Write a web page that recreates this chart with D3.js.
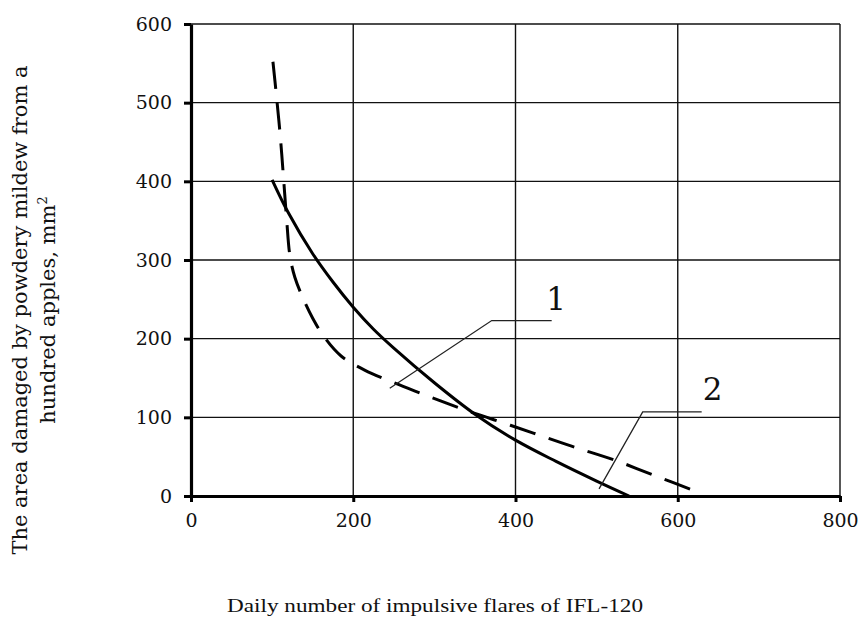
<!DOCTYPE html>
<html>
<head>
<meta charset="utf-8">
<script src="https://cdn.jsdelivr.net/npm/d3@7"></script>
<style>
  html, body { margin: 0; padding: 0; background: #fff; }
  svg text { font-family: "DejaVu Serif", "Liberation Serif", serif; fill: #111; }
</style>
</head>
<body>
<svg id="chart" width="861" height="621"></svg>
<script>
// Curve 1: solid line (x = daily flares, y = damaged area)
const curve1X = [100, 120, 150, 175, 200, 225, 250, 300, 350, 400, 450, 500, 540];
const curve1Y = [402, 360, 308, 272, 240, 212, 188, 144, 104, 71, 44, 19, 0];

// Curve 2: dashed line
const curve2X = [101, 105, 110, 114, 118, 122, 128, 137, 150, 165, 185, 214, 250, 282, 315, 350, 385, 422, 470, 521, 574, 625];
const curve2Y = [552, 512, 458, 405, 350, 305, 278, 254, 226, 201, 178, 160, 144, 131, 118, 105, 93, 80, 63, 46, 25, 5];

const xTicks = [0, 200, 400, 600, 800];
const yTicks = [0, 100, 200, 300, 400, 500, 600];

const xTitle = "Daily number of impulsive flares of IFL-120";
const yTitleLines = ["The area damaged by powdery mildew from a", "hundred apples, mm"];

// Curve numbers and their leader lines (data units)
const curveLabels = ["1", "2"];
const labelText = [[450, 236], [643, 122]];
const leaderPoints = [
  [[444.6, 223], [370.7, 223], [245, 137]],
  [[629.5, 107], [556.8, 107], [503, 9]]
];

const svg = d3.select("#chart");
const x = d3.scaleLinear().domain([0, 800]).range([191, 840]);
const y = d3.scaleLinear().domain([0, 600]).range([496, 24]);

// grid
const grid = svg.append("g");
grid.selectAll("line.h").data(yTicks.filter(d => d > 0)).join("line")
  .attr("x1", x(0)).attr("x2", x(800))
  .attr("y1", d => y(d)).attr("y2", d => y(d))
  .attr("stroke", "#111").attr("stroke-width", 1.4);
grid.selectAll("line.v").data(xTicks.filter(d => d > 0)).join("line")
  .attr("y1", y(0)).attr("y2", y(600))
  .attr("x1", d => x(d)).attr("x2", d => x(d))
  .attr("stroke", "#111").attr("stroke-width", 1.4);

// axes
const xAxis = svg.append("g").attr("transform", `translate(0,${y(0)})`)
  .call(d3.axisBottom(x).tickValues(xTicks).tickSizeInner(6).tickSizeOuter(0).tickPadding(12));
const yAxis = svg.append("g").attr("transform", `translate(${x(0)},0)`)
  .call(d3.axisLeft(y).tickValues(yTicks).tickSizeInner(7).tickSizeOuter(0).tickPadding(12));
[xAxis, yAxis].forEach(g => {
  g.select(".domain").attr("stroke", "#000").attr("stroke-width", 3.2);
  g.selectAll(".tick line").attr("stroke", "#000").attr("stroke-width", 3);
  g.selectAll(".tick text").attr("font-size", 19).attr("fill", "#111")
    .style("font-family", '"DejaVu Serif", serif');
});

// curves
const line = d3.line().x(d => x(d[0])).y(d => y(d[1])).curve(d3.curveCatmullRom.alpha(0.5));
svg.append("path").datum(d3.zip(curve1X, curve1Y)).attr("d", line)
  .attr("fill", "none").attr("stroke", "#000").attr("stroke-width", 3);
svg.append("path").datum(d3.zip(curve2X, curve2Y)).attr("d", line)
  .attr("fill", "none").attr("stroke", "#000").attr("stroke-width", 3)
  .attr("stroke-dasharray", "27,14");

// leader lines and curve numbers
leaderPoints.forEach((pts, i) => {
  svg.append("path").datum(pts)
    .attr("d", d3.line().x(d => x(d[0])).y(d => y(d[1])))
    .attr("fill", "none").attr("stroke", "#222").attr("stroke-width", 1.3);
  svg.append("text")
    .attr("x", x(labelText[i][0])).attr("y", y(labelText[i][1]))
    .attr("text-anchor", "middle").attr("font-size", 31)
    .text(curveLabels[i]);
});

// axis titles
svg.append("text").attr("x", 435).attr("y", 612)
  .attr("text-anchor", "middle").attr("font-size", 18)
  .style("font-family", '"Liberation Serif", serif')
  .attr("textLength", 416).attr("lengthAdjust", "spacingAndGlyphs")
  .text(xTitle);

const yT = svg.append("text").attr("transform", "translate(0,310) rotate(-90)")
  .attr("text-anchor", "middle").attr("font-size", 21);
yT.append("tspan").attr("x", 0).attr("y", 27).text(yTitleLines[0]);
yT.append("tspan").attr("x", 0).attr("y", 55).text(yTitleLines[1]);
yT.append("tspan").attr("font-size", 13).attr("dy", -8).text("2");
</script>
</body>
</html>
